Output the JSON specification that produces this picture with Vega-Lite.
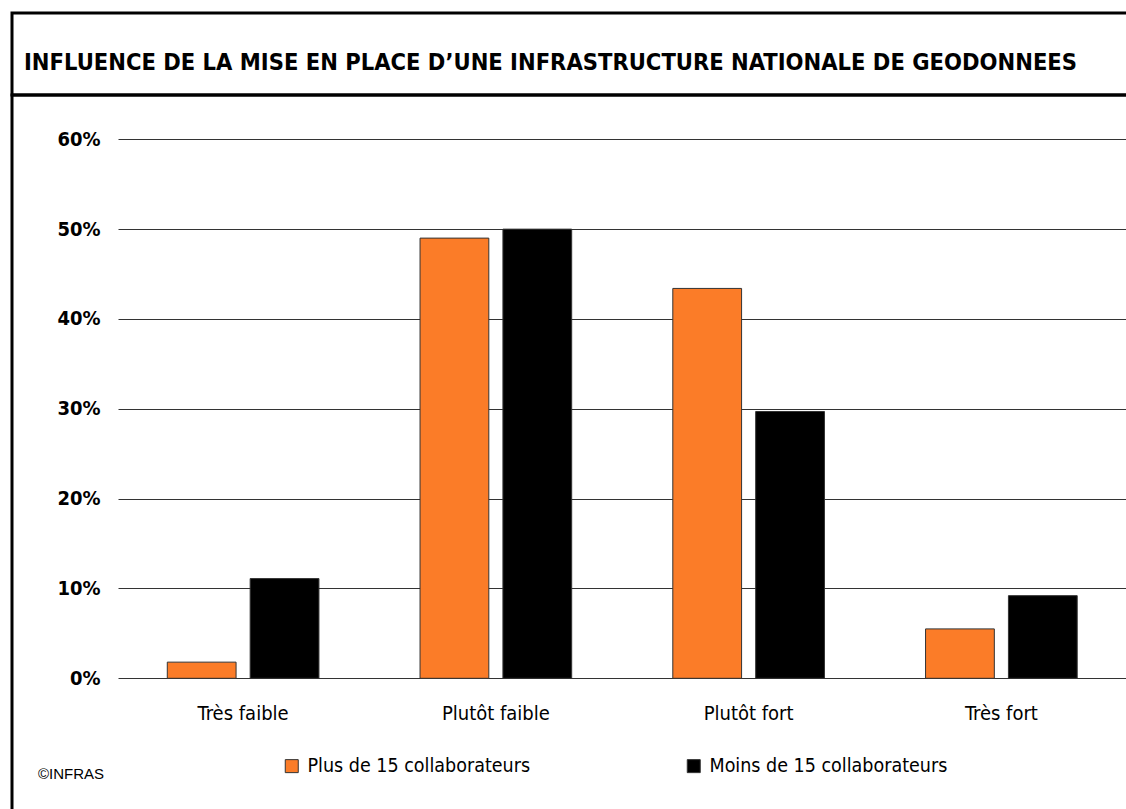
{
  "$schema": "https://vega.github.io/schema/vega-lite/v6.json",
  "padding": {"left": 10, "top": 11, "right": 0, "bottom": 0},
  "background": "white",
  "spacing": 0,
  "bounds": "flush",
  "config": {"view": {"stroke": "black", "strokeWidth": 3}, "font": "DejaVu Sans Condensed"},
  "resolve": {"legend": {"color": "independent"}},
  "vconcat": [
    {
      "width": 1120,
      "height": 82,
      "title": {"text": "INFLUENCE DE LA MISE EN PLACE D’UNE INFRASTRUCTURE NATIONALE DE GEODONNEES", "anchor": "start", "orient": "top", "frame": "group", "offset": -80, "baseline": "alphabetic", "dx": 12, "font": "DejaVu Sans Condensed", "fontSize": 23.5, "fontWeight": "bold", "color": "black"},
      "data": {"values": [{"t": ""}]},
      "mark": {"type": "text"},
      "encoding": {
        "text": {"field": "t"},
        "y": {"field": "t", "type": "nominal", "axis": null}
      }
    },
    {
      "width": 1120,
      "height": 720,
      "data": {"values": [
        {"niveau": "Très faible", "groupe": "Plus de 15 collaborateurs", "valeur": 1.8},
        {"niveau": "Très faible", "groupe": "Moins de 15 collaborateurs", "valeur": 11.1},
        {"niveau": "Plutôt faible", "groupe": "Plus de 15 collaborateurs", "valeur": 49.0},
        {"niveau": "Plutôt faible", "groupe": "Moins de 15 collaborateurs", "valeur": 50.0},
        {"niveau": "Plutôt fort", "groupe": "Plus de 15 collaborateurs", "valeur": 43.4},
        {"niveau": "Plutôt fort", "groupe": "Moins de 15 collaborateurs", "valeur": 29.7},
        {"niveau": "Très fort", "groupe": "Plus de 15 collaborateurs", "valeur": 5.5},
        {"niveau": "Très fort", "groupe": "Moins de 15 collaborateurs", "valeur": 9.2}
      ]},
      "title": {"text": "©INFRAS", "orient": "bottom", "anchor": "start", "frame": "group", "offset": -36, "baseline": "alphabetic", "dx": 26, "font": "Liberation Sans", "fontSize": 15, "fontWeight": "normal", "color": "black"},
      "mark": {"type": "bar", "stroke": "#333333", "strokeWidth": 1},
      "encoding": {
        "x": {
          "field": "niveau", "type": "nominal",
          "sort": ["Très faible", "Plutôt faible", "Plutôt fort", "Très fort"],
          "scale": {"range": [106, 1114.5], "paddingInner": 0.4, "paddingOuter": 0.195},
          "axis": {"orient": "bottom", "offset": -136, "labelPadding": 24, "domain": false, "ticks": false, "labelAngle": 0, "labelFontSize": 20, "labelColor": "black", "title": null, "minExtent": 0, "grid": false}
        },
        "xOffset": {
          "field": "groupe", "type": "nominal",
          "sort": ["Plus de 15 collaborateurs", "Moins de 15 collaborateurs"],
          "scale": {"paddingInner": 0.17, "paddingOuter": 0}
        },
        "y": {
          "field": "valeur", "type": "quantitative",
          "scale": {"domain": [0, 60], "range": [583.3, 44.3], "nice": false},
          "axis": {"values": [0, 10, 20, 30, 40, 50, 60], "labelExpr": "datum.value + '%'", "offset": -106, "labelPadding": 18, "ticks": false, "tickSize": 0, "domain": false, "grid": true, "gridColor": "#333333", "gridWidth": 1, "labelFontSize": 20, "labelFontWeight": "bold", "labelColor": "black", "title": null, "minExtent": 0}
        },
        "color": {
          "field": "groupe", "type": "nominal",
          "sort": ["Plus de 15 collaborateurs", "Moins de 15 collaborateurs"],
          "scale": {"domain": ["Plus de 15 collaborateurs", "Moins de 15 collaborateurs"], "range": ["#FB7C28", "#000000"]},
          "legend": {"orient": "none", "legendX": 270, "legendY": 661, "direction": "horizontal", "title": null, "symbolType": "square", "symbolSize": 169, "symbolStrokeColor": "#333333", "symbolStrokeWidth": 1, "labelFontSize": 19.5, "labelColor": "black", "labelOffset": 6, "columnPadding": 153, "labelLimit": 400}
        }
      }
    }
  ]
}
